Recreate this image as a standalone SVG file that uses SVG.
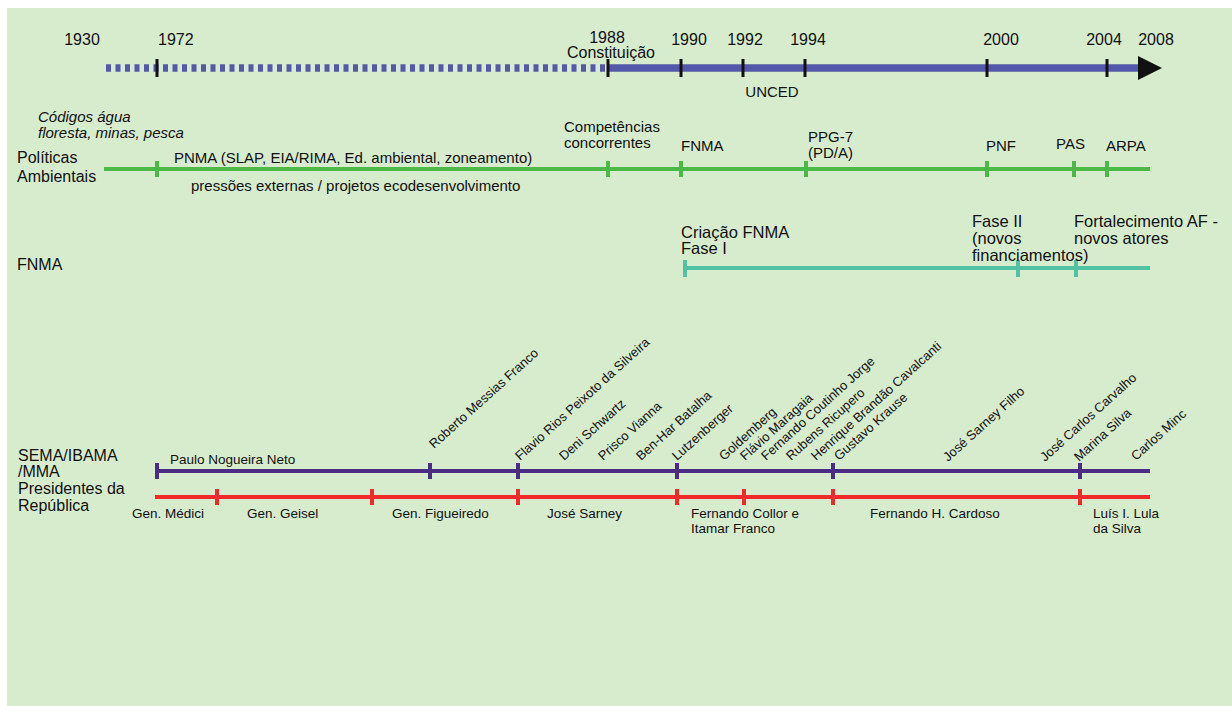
<svg xmlns="http://www.w3.org/2000/svg" width="1232" height="706" viewBox="0 0 1232 706">
<style>
text{font-family:"Liberation Sans",Arial,sans-serif;fill:#111}
.y{font-size:16px}
.l{font-size:15px}
.r{font-size:16px}
.f{font-size:16.5px}
.n{font-size:13px}
.p{font-size:13.5px}
.it{font-style:italic}
.tk{stroke:#111;stroke-width:3}
.g{stroke:#4cb848;stroke-width:4}
.t{stroke:#52c2a2;stroke-width:4}
.pu{stroke:#4a2c84;stroke-width:4}
.rd{stroke:#ee2a2a;stroke-width:4}
</style>
<rect x="7" y="8" width="1225" height="698" fill="#d7ebcd"/>
<g id="connectors">
<g id="timeline">
<line x1="106" y1="68" x2="608" y2="68" stroke="#5458a8" stroke-width="7.5" stroke-dasharray="5 4.5"/>
<line x1="608" y1="68" x2="1142" y2="68" stroke="#5458a8" stroke-width="7.5"/>
<polygon points="1138,56 1162,68 1138,80" fill="#111"/>
<line class="tk" x1="157" y1="59" x2="157" y2="77"/>
<line class="tk" x1="608" y1="59" x2="608" y2="77"/>
<line class="tk" x1="681" y1="59" x2="681" y2="77"/>
<line class="tk" x1="743" y1="59" x2="743" y2="77"/>
<line class="tk" x1="805" y1="59" x2="805" y2="77"/>
<line class="tk" x1="987" y1="59" x2="987" y2="77"/>
<line class="tk" x1="1107" y1="59" x2="1107" y2="77"/>
</g>
<g id="politicas-line">
<line class="g" x1="104" y1="169" x2="1150" y2="169"/>
<line class="g" x1="157" y1="161" x2="157" y2="177"/>
<line class="g" x1="608" y1="161" x2="608" y2="177"/>
<line class="g" x1="681" y1="161" x2="681" y2="177"/>
<line class="g" x1="806" y1="161" x2="806" y2="177"/>
<line class="g" x1="987" y1="161" x2="987" y2="177"/>
<line class="g" x1="1074" y1="161" x2="1074" y2="177"/>
<line class="g" x1="1107" y1="161" x2="1107" y2="177"/>
</g>
<g id="fnma-line">
<line class="t" x1="684" y1="268" x2="1150" y2="268"/>
<line class="t" x1="685" y1="260" x2="685" y2="277"/>
<line class="t" x1="1018" y1="260" x2="1018" y2="277"/>
<line class="t" x1="1076" y1="260" x2="1076" y2="277"/>
</g>
<g id="sema-line">
<line class="pu" x1="155" y1="471" x2="1150" y2="471"/>
<line class="pu" x1="157" y1="463" x2="157" y2="479"/>
<line class="pu" x1="430" y1="463" x2="430" y2="479"/>
<line class="pu" x1="518" y1="463" x2="518" y2="479"/>
<line class="pu" x1="677" y1="463" x2="677" y2="479"/>
<line class="pu" x1="833" y1="463" x2="833" y2="479"/>
<line class="pu" x1="1080" y1="463" x2="1080" y2="479"/>
</g>
<g id="presidentes-line">
<line class="rd" x1="155" y1="497" x2="1150" y2="497"/>
<line class="rd" x1="217" y1="489" x2="217" y2="505"/>
<line class="rd" x1="372" y1="489" x2="372" y2="505"/>
<line class="rd" x1="518" y1="489" x2="518" y2="505"/>
<line class="rd" x1="677" y1="489" x2="677" y2="505"/>
<line class="rd" x1="744" y1="489" x2="744" y2="505"/>
<line class="rd" x1="833" y1="489" x2="833" y2="505"/>
<line class="rd" x1="1080" y1="489" x2="1080" y2="505"/>
</g>
</g>
<g id="years">
<text class="y" x="82" y="45" text-anchor="middle">1930</text>
<text class="y" x="158" y="45">1972</text>
<text class="y" x="607" y="43" text-anchor="middle">1988</text>
<text class="y" x="611" y="58" text-anchor="middle">Constituição</text>
<text class="y" x="689" y="45" text-anchor="middle">1990</text>
<text class="y" x="745" y="45" text-anchor="middle">1992</text>
<text class="y" x="808" y="45" text-anchor="middle">1994</text>
<text class="y" x="1001" y="45" text-anchor="middle">2000</text>
<text class="y" x="1104" y="45" text-anchor="middle">2004</text>
<text class="y" x="1156" y="45" text-anchor="middle">2008</text>
<text class="l" x="772" y="97" text-anchor="middle">UNCED</text>
</g>
<g id="politicas">
<text class="l it" x="38" y="122">Códigos água</text>
<text class="l it" x="38" y="138">floresta, minas, pesca</text>
<text class="r" x="17" y="163">Políticas</text>
<text class="r" x="17" y="182">Ambientais</text>
<text class="l" x="174" y="163">PNMA (SLAP, EIA/RIMA, Ed. ambiental, zoneamento)</text>
<text class="l" x="191" y="191">pressões externas / projetos ecodesenvolvimento</text>
<text class="l" x="564" y="132">Competências</text>
<text class="l" x="564" y="148">concorrentes</text>
<text class="l" x="681" y="151">FNMA</text>
<text class="l" x="808" y="142">PPG-7</text>
<text class="l" x="808" y="158">(PD/A)</text>
<text class="l" x="986" y="151">PNF</text>
<text class="l" x="1056" y="149">PAS</text>
<text class="l" x="1106" y="151">ARPA</text>
</g>
<g id="fnma">
<text class="r" x="17" y="270">FNMA</text>
<text class="f" x="681" y="238">Criação FNMA</text>
<text class="f" x="681" y="254">Fase I</text>
<text class="f" x="972" y="227">Fase II</text>
<text class="f" x="972" y="244">(novos</text>
<text class="f" x="972" y="261">financiamentos)</text>
<text class="f" x="1074" y="227">Fortalecimento AF -</text>
<text class="f" x="1074" y="244">novos atores</text>
</g>
<g id="sema">
<text class="r" x="18" y="461">SEMA/IBAMA</text>
<text class="r" x="18" y="477">/MMA</text>
<text class="p" x="170" y="464">Paulo Nogueira Neto</text>
<text class="n" transform="translate(434,449) rotate(-42)">Roberto Messias Franco</text>
<text class="n" transform="translate(520,461) rotate(-42)">Flavio Rios Peixoto da Silveira</text>
<text class="n" transform="translate(564,461) rotate(-42)">Deni Schwartz</text>
<text class="n" transform="translate(603,461) rotate(-42)">Prisco Vianna</text>
<text class="n" transform="translate(641,461) rotate(-42)">Ben-Har Batalha</text>
<text class="n" transform="translate(677,461) rotate(-42)">Lutzenberger</text>
<text class="n" transform="translate(724,461) rotate(-42)">Goldemberg</text>
<text class="n" transform="translate(745,461) rotate(-42)">Flávio Maragaia</text>
<text class="n" transform="translate(766,461) rotate(-42)">Fernando Coutinho Jorge</text>
<text class="n" transform="translate(791,461) rotate(-42)">Rubens Ricupero</text>
<text class="n" transform="translate(816,461) rotate(-42)">Henrique Brandão Cavalcanti</text>
<text class="n" transform="translate(839,461) rotate(-42)">Gustavo Krause</text>
<text class="n" transform="translate(948,462) rotate(-42)">José Sarney Filho</text>
<text class="n" transform="translate(1045,462) rotate(-42)">José Carlos Carvalho</text>
<text class="n" transform="translate(1079,462) rotate(-42)">Marina Silva</text>
<text class="n" transform="translate(1136,461) rotate(-42)">Carlos Minc</text>
</g>
<g id="presidentes">
<text class="r" x="18" y="494">Presidentes da</text>
<text class="r" x="18" y="511">República</text>
<text class="p" x="132" y="518">Gen. Médici</text>
<text class="p" x="247" y="518">Gen. Geisel</text>
<text class="p" x="392" y="518">Gen. Figueiredo</text>
<text class="p" x="547" y="518">José Sarney</text>
<text class="p" x="691" y="518">Fernando Collor e</text>
<text class="p" x="691" y="533">Itamar Franco</text>
<text class="p" x="870" y="518">Fernando H. Cardoso</text>
<text class="p" x="1093" y="518">Luís I. Lula</text>
<text class="p" x="1093" y="533">da Silva</text>
</g>
</svg>
